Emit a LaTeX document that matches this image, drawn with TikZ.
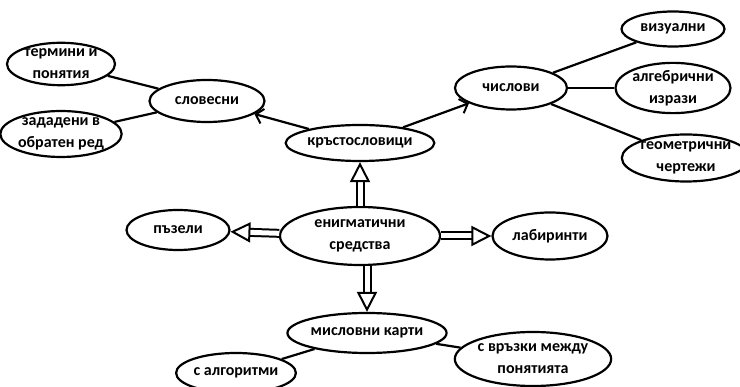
\documentclass[tikz,border=0pt]{standalone}
\usepackage{fontspec}
\setmainfont{Carlito}
\usetikzlibrary{shapes,arrows.meta,positioning}
\tikzset{
  el/.style={ellipse,draw,line width=2.2pt,inner sep=0pt,align=center,font=\fontsize{16}{22}\selectfont\bfseries},
  ln/.style={line width=2.2pt},
  arr/.style={-{Straight Barb[length=7pt,width=15pt,line width=2pt]},line width=2.2pt},
  dbl/.style={double,double distance=5pt,line width=2pt,-{Triangle[open,length=20pt,width=20pt,line width=2pt]}},
}
\begin{document}
\begin{tikzpicture}[x=1pt,y=-1pt]
  \useasboundingbox (0,0) rectangle (740,387);
  \clip (0,0) rectangle (740,387);
  % center
  \node[el,minimum width=160pt,minimum height=58pt] (enig) at (360,236) {енигматични\\средства};
  \node[el,minimum width=116pt,minimum height=36pt] (kr) at (360,143) {кръстословици};
  \node[el,minimum width=103pt,minimum height=40pt] (pz) at (178,230) {пъзели};
  \node[el,minimum width=115pt,minimum height=47pt] (lab) at (550,236) {лабиринти};
  \node[el,minimum width=133pt,minimum height=40pt] (mk) at (367,333) {мисловни карти};
  % left branch
  \node[el,minimum width=115pt,minimum height=42pt] (sl) at (207,101) {словесни};
  \node[el,minimum width=108pt,minimum height=38pt] (tp) at (61,64) {термини и\\понятия};
  \node[el,minimum width=108pt,minimum height=42pt] (zr) at (61,134) {зададени в\\обратен ред};
  % right branch
  \node[el,minimum width=112pt,minimum height=43pt] (ch) at (511,88) {числови};
  \node[el,minimum width=103pt,minimum height=35pt] (viz) at (673,29) {визуални};
  \node[el,minimum width=110pt,minimum height=43pt] (alg) at (673,88) {алгебрични\\изрази};
  \node[el,minimum width=105pt,minimum height=47pt] (geo) at (686,158) {геометрични\\чертежи};
  % bottom
  \node[el,minimum width=118pt,minimum height=40pt] (alg2) at (236,373) {с алгоритми};
  \node[el,minimum width=122pt,minimum height=54pt] (vr) at (533,359) {с връзки между\\понятията};

  \draw[dbl] (enig) -- (kr);
  \draw[dbl] (enig) -- (pz);
  \draw[dbl] (enig) -- (lab);
  \draw[dbl] (enig.south -| mk.north) -- (mk);
  \draw[arr] (kr) -- (sl);
  \draw[arr] (kr) -- (ch);
  \draw[ln] (sl) -- (tp);
  \draw[ln] (sl) -- (zr);
  \draw[ln] (ch) -- (viz);
  \draw[ln] (ch) -- (alg);
  \draw[ln] (ch) -- (geo);
  \draw[ln] (mk) -- (alg2);
  \draw[ln] (mk) -- (vr);
\end{tikzpicture}
\end{document}
